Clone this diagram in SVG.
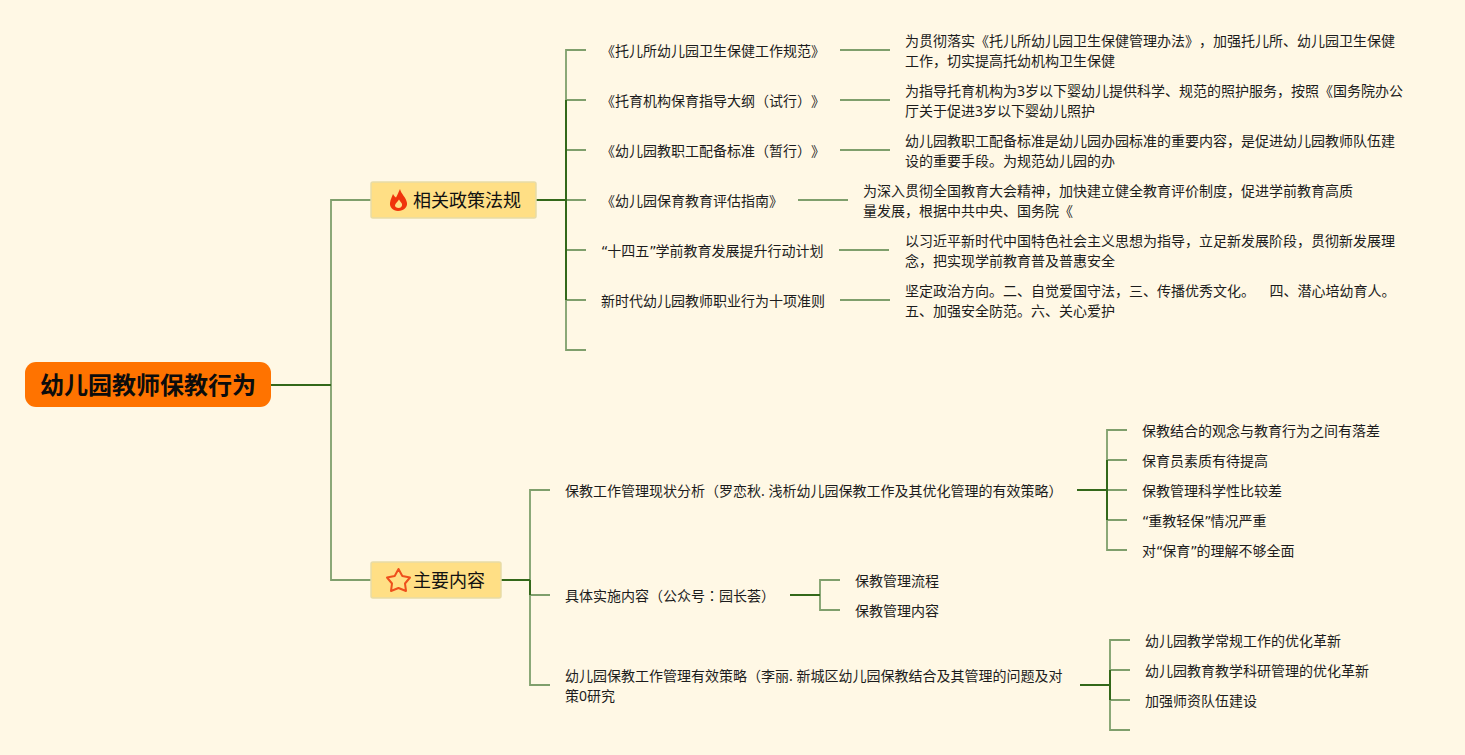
<svg xmlns="http://www.w3.org/2000/svg" width="1465" height="755" viewBox="0 0 1465 755">
<style>
text{font-family:"Noto Sans","Noto Sans CJK SC",sans-serif;fill:#1c1c1c;font-size:14px;white-space:pre;text-spacing-trim:space-all}
.root{font-size:24px;font-weight:700;fill:#0c0c0c}
.branch{font-size:18px;fill:#111}
.l{fill:none;stroke:#7f9f6c;stroke-width:1.8}
.d{fill:none;stroke:#33681a;stroke-width:2}
.box{fill:#ffdf85;stroke:#e8dba6;stroke-width:1.500}
.tc{font-family:"Noto Sans CJK TC",sans-serif}
.q{font-family:"DejaVu Sans",sans-serif;letter-spacing:-1px}
</style>
<rect width="1465" height="755" fill="#fff8e5"/>
<g id="connectors">
<path class="l" d="M371 200H331V580H371"/>
<path class="d" d="M271 385H331"/>
<path class="l" d="M586 50H566V350H586M566 100H586M566 150H586M566 200H586M566 250H586M566 300H586"/>
<path class="d" d="M536 200H566"/>
<path class="d" d="M566 100V300"/>
<path class="l" d="M840 50H890M840 100H890M840 150H890M798 200H848M839 250H889M840 300H890"/>
<path class="l" d="M550 490H530V685H550M530 595H550"/>
<path class="d" d="M501 580H530"/>
<path class="d" d="M530 580V595"/>
<path class="l" d="M1127 430H1107V550H1127M1107 460H1127M1107 490H1127M1107 520H1127"/>
<path class="d" d="M1077 490H1107"/>
<path class="d" d="M1107 460V520"/>
<path class="l" d="M840 580H820V610H840"/>
<path class="d" d="M790 595H820"/>
<path class="l" d="M1130 640H1110V730H1130M1110 670H1130M1110 700H1130"/>
<path class="d" d="M1080 685H1110"/>
<path class="d" d="M1110 670V700"/>
</g>
<g id="root"><rect x="25" y="362" width="246" height="45" rx="11" fill="#ff7300"/><text class="root" x="40" y="394">幼儿园教师保教行为</text></g>
<g id="b1"><rect class="box" x="371" y="182" width="165" height="36" rx="2"/>
<path d="M400 189C401 194 406 197 407 203C407.500 207 404 211 398 211C393 211 389.500 207 390 203C390.500 199 392 197 393 194C394 196 395 197 396 197.500C397.500 195 398.500 192 400 189ZM398.500 208C401 208 402.500 206 402 204C401.500 202.500 400 201.500 399 199.500C398 201.500 395 203.500 395 205.500C395 207 396.500 208 398.500 208Z" fill="#f0340c" fill-rule="evenodd"/>
<text class="branch" x="413" y="207">相关政策法规</text></g>
<g id="b2"><rect class="box" x="371" y="562" width="130" height="36" rx="2"/>
<path d="M398.500 569L402.300 576L410 577.500L405 583.500L406 591L398.500 588L391 591L392 583.500L387 577.500L394.700 576Z" fill="none" stroke="#ee4f1c" stroke-width="2" stroke-linejoin="round"/>
<text class="branch" x="413" y="587">主要内容</text></g>
<g id="n1"><text x="601" y="56">《托儿所幼儿园卫生保健工作规范》</text></g>
<g id="n1d"><text x="905" y="46">为贯彻落实《托儿所幼儿园卫生保健管理办法》，加强托儿所、幼儿园卫生保健</text><text x="905" y="66">工作，切实提高托幼机构卫生保健</text></g>
<g id="n2"><text x="601" y="106">《托育机构保育指导大纲（试行）》</text></g>
<g id="n2d"><text x="905" y="96">为指导托育机构为3岁以下婴幼儿提供科学、规范的照护服务，按照《国务院办公</text><text x="905" y="116">厅关于促进3岁以下婴幼儿照护</text></g>
<g id="n3"><text x="601" y="156">《幼儿园教职工配备标准（暂行）》</text></g>
<g id="n3d"><text x="905" y="146">幼儿园教职工配备标准是幼儿园办园标准的重要内容，是促进幼儿园教师队伍建</text><text x="905" y="166">设的重要手段。为规范幼儿园的办</text></g>
<g id="n4"><text x="601" y="206">《幼儿园保育教育评估指南》</text></g>
<g id="n4d"><text x="863" y="196">为深入贯彻全国教育大会精神，加快建立健全教育评价制度，促进学前教育高质</text><text x="863" y="216">量发展，根据中共中央、国务院《</text></g>
<g id="n5"><text x="601" y="256"><tspan class="q">“</tspan>十四五<tspan class="q">”</tspan>学前教育发展提升行动计划</text></g>
<g id="n5d"><text x="905" y="246">以习近平新时代中国特色社会主义思想为指导，立足新发展阶段，贯彻新发展理</text><text x="905" y="266">念，把实现学前教育普及普惠安全</text></g>
<g id="n6"><text x="601" y="306">新时代幼儿园教师职业行为十项准则</text></g>
<g id="n6d"><text x="905" y="296">坚定政治方向。二、自觉爱国守法，三、传播优秀文化。    四、潜心培幼育人。</text><text x="905" y="316">五、加强安全防范。六、关心爱护</text></g>
<g id="m1"><text x="565" y="496">保教工作管理现状分析（罗恋秋. 浅析幼儿园保教工作及其优化管理的有效策略）</text></g>
<g id="m1a"><text x="1142" y="436">保教结合的观念与教育行为之间有落差</text></g>
<g id="m1b"><text x="1142" y="466">保育员素质有待提高</text></g>
<g id="m1c"><text x="1142" y="496">保教管理科学性比较差</text></g>
<g id="m1d"><text x="1142" y="526"><tspan class="q">“</tspan>重教轻保<tspan class="q">”</tspan>情况严重</text></g>
<g id="m1e"><text x="1142" y="556">对<tspan class="q">“</tspan>保育<tspan class="q">”</tspan>的理解不够全面</text></g>
<g id="m2"><text x="565" y="601">具体实施内容（公众号<tspan class="tc">：</tspan>园长荟）</text></g>
<g id="m2a"><text x="855" y="586">保教管理流程</text></g>
<g id="m2b"><text x="855" y="616">保教管理内容</text></g>
<g id="m3"><text x="565" y="681">幼儿园保教工作管理有效策略（李丽. 新城区幼儿园保教结合及其管理的问题及对</text><text x="565" y="701">策0研究</text></g>
<g id="m3a"><text x="1145" y="646">幼儿园教学常规工作的优化革新</text></g>
<g id="m3b"><text x="1145" y="676">幼儿园教育教学科研管理的优化革新</text></g>
<g id="m3c"><text x="1145" y="706">加强师资队伍建设</text></g>
</svg>
